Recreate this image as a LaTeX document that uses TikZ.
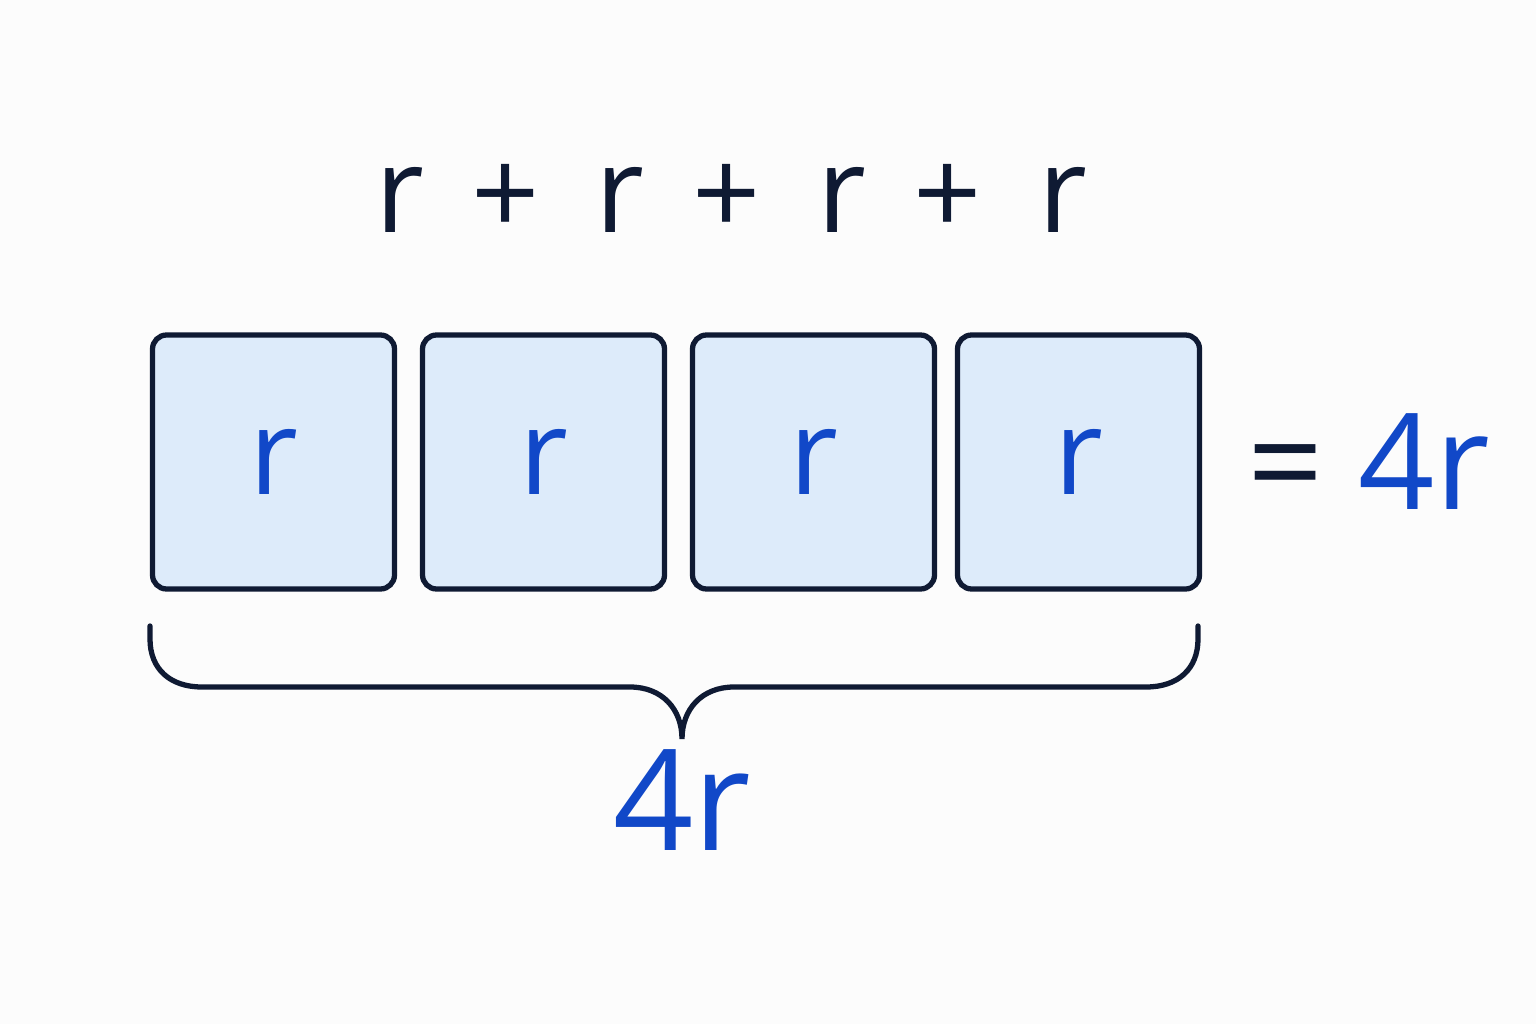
\documentclass[tikz,border=0pt]{standalone}
\usepackage{fontspec}
\setmainfont{Open Sans}
\usetikzlibrary{positioning}
\definecolor{navy}{HTML}{0F1A33}
\definecolor{cellfill}{HTML}{DDEBFA}
\definecolor{ink}{HTML}{1148C8}

\begin{document}
\begin{tikzpicture}[
  cell/.style={draw=navy, line width=1.5pt, fill=cellfill, rounded corners=4pt,
    minimum width=2.42cm, minimum height=2.54cm, inner sep=0pt,
    font=\fontsize{34}{34}\selectfont, text=ink},
  term/.style={font=\fontsize{34}{34}\selectfont, text=navy, inner sep=0pt}
]
  % Rahmen
  \useasboundingbox (0,0) rectangle (15.36,10.24);
  \fill[white!98!gray] (0,0) rectangle (15.36,10.24);

  % Vier Kästchen
  \node[cell] (c1) at (2.735,5.62) {r};
  \node[cell] (c2) at (5.435,5.62) {r};
  \node[cell] (c3) at (8.135,5.62) {r};
  \node[cell] (c4) at (10.785,5.62) {r};

  % Summe oben
  \foreach \x/\n in {4.00/a,6.20/b,8.42/c,10.63/d}
    \node[term] (r\n) at (\x,8.24) {r};
  \foreach \x/\n in {5.06/a,7.27/b,9.48/c}
    \node[term] (p\n) at (\x,8.24) {+};

  % Ergebnis rechts
  \node[term, right=0.45cm of c4, text=ink, font=\fontsize{38}{38}\selectfont]
    (res) {\textcolor{navy}{=} 4r};

  % Klammer unten
  \draw[navy, line width=1.5pt, line cap=round]
    (1.50,3.98) -- (1.50,3.85) .. controls (1.50,3.55) and (1.70,3.37) .. (2.02,3.37)
    -- (6.30,3.37) .. controls (6.62,3.37) and (6.82,3.15) .. (6.82,2.85)
    .. controls (6.82,3.15) and (7.02,3.37) .. (7.34,3.37)
    -- (11.46,3.37) .. controls (11.78,3.37) and (11.98,3.55) .. (11.98,3.85)
    -- (11.98,3.98);
  \coordinate (tip) at (6.82,2.85);
  \node[below=0.1cm of tip, text=ink, inner sep=0pt,
    font=\fontsize{40}{40}\selectfont] (sum) {4r};
\end{tikzpicture}
\end{document}
